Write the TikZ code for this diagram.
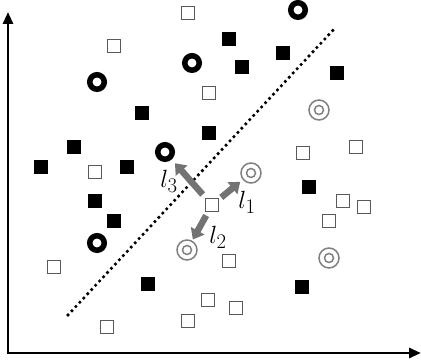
\documentclass[tikz,border=0pt]{standalone}
\usetikzlibrary{arrows.meta}
\begin{document}
\begin{tikzpicture}[x=1pt,y=-1pt,
  osq/.style={draw=black!65,fill=white,line width=1.2pt,minimum size=13pt,inner sep=0pt,outer sep=0pt},
  fsq/.style={fill=black,minimum size=14pt,inner sep=0pt,outer sep=0pt},
  ring/.style={circle,draw=black,line width=5.5pt,minimum size=14.5pt,inner sep=0pt},
  dcirc/.style={circle,draw=black!50,line width=1.5pt,minimum size=20pt,inner sep=0pt,
    path picture={\draw[black!50,line width=1.5pt] (path picture bounding box.center) circle (4.5pt);}},
  axis/.style={line width=2.8pt,-{Triangle[length=12pt,width=10pt]}},
  garrow/.style={draw=black!55,line width=6.5pt,-{Triangle[length=10pt,width=15pt]}},
  lab/.style={font=\fontsize{30}{32}\selectfont,inner sep=0pt}]
\useasboundingbox (0,0) rectangle (421,363);
% axes
\coordinate (O) at (8,353);
\coordinate (Ytop) at (8,12);
\coordinate (Xend) at (421,353);
\draw[axis] (O) -- (Ytop);
\draw[axis] ([xshift=-1.4pt]O) -- (Xend);
% separator
\coordinate (d1) at (68,315);
\coordinate (d2) at (336,27);
\draw[line width=3.6pt,line cap=round,dash pattern=on 0pt off 5.8pt] (d1) -- (d2);
% open squares
\node[osq] (o1) at (188,13) {};
\node[osq] (o2) at (114,46) {};
\node[osq] (o3) at (209,93) {};
\node[osq] (o4) at (95,172) {};
\node[osq] (o5) at (303,153) {};
\node[osq] (o6) at (356,147) {};
\node[osq] (c) at (212,205) {};
\node[osq] (o7) at (343,201) {};
\node[osq] (o8) at (364,207) {};
\node[osq] (o9) at (329,221) {};
\node[osq] (o10) at (229,261) {};
\node[osq] (o11) at (54,267) {};
\node[osq] (o12) at (208,300) {};
\node[osq] (o13) at (236,308) {};
\node[osq] (o14) at (188,321) {};
\node[osq] (o15) at (107,327) {};
% filled squares
\node[fsq] (f1) at (229,39) {};
\node[fsq] (f2) at (242,67) {};
\node[fsq] (f3) at (283,53) {};
\node[fsq] (f4) at (337,73) {};
\node[fsq] (f5) at (142,113) {};
\node[fsq] (f6) at (209,133) {};
\node[fsq] (f7) at (74,147) {};
\node[fsq] (f8) at (41,167) {};
\node[fsq] (f9) at (127,167) {};
\node[fsq] (f10) at (95,201) {};
\node[fsq] (f11) at (114,221) {};
\node[fsq] (f12) at (148,284) {};
\node[fsq] (f13) at (309,187) {};
\node[fsq] (f14) at (302,287) {};
% bold rings
\node[ring] (r1) at (298,10) {};
\node[ring] (r2) at (192,63) {};
\node[ring] (r3) at (97,82) {};
\node[ring] (r4) at (165,152) {};
\node[ring] (r5) at (97,243) {};
% double circles
\node[dcirc] (d1c) at (319,110) {};
\node[dcirc] (d2c) at (251,173) {};
\node[dcirc] (d3c) at (187,250) {};
\node[dcirc] (d4c) at (329,258) {};
% arrows
\draw[garrow,shorten <=14pt,shorten >=15pt] (c.center) -- (r4.center);
\draw[garrow,shorten <=12pt,shorten >=14pt] (c.center) -- (d2c.center);
\draw[garrow,shorten <=12pt,shorten >=12pt] (c.center) -- (d3c.center);
% labels
\node[lab] (l3) at (169,181) {$l_3$};
\node[lab] (l1) at (247,202) {$l_1$};
\node[lab] (l2) at (218,237) {$l_2$};
\end{tikzpicture}
\end{document}
